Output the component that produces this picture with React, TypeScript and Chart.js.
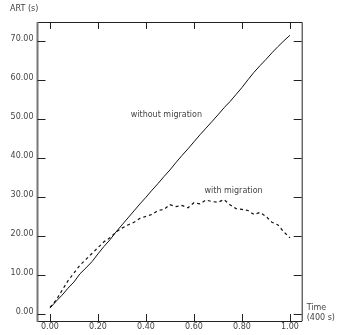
import React, { useEffect, useRef } from "react";
import { Chart, registerables } from "chart.js";

Chart.register(...registerables);

const timeValues = [
  0, 0.025, 0.05, 0.075, 0.1, 0.125, 0.15, 0.175, 0.2, 0.225, 0.25, 0.275, 0.3, 0.325, 0.35, 0.375, 0.4,
  0.425, 0.45, 0.475, 0.5, 0.525, 0.55, 0.575, 0.6, 0.625, 0.65, 0.675, 0.7, 0.725, 0.75, 0.775, 0.8,
  0.825, 0.85, 0.875, 0.9, 0.925, 0.95, 0.975, 1.0,
];
const artWithoutMigration = [
  1.5, 3.2, 4.8, 6.6, 8.2, 10.3, 11.8, 13.4, 15.4, 17.3, 19.0, 21.0, 22.8, 24.6, 26.4, 28.2, 29.9,
  31.7, 33.4, 35.2, 36.9, 38.8, 40.6, 42.3, 44.1, 45.9, 47.6, 49.3, 51.0, 52.8, 54.4, 56.2, 58.0,
  60.0, 61.9, 63.6, 65.2, 66.9, 68.5, 70.0, 71.4,
];
const artWithMigration = [
  1.7, 3.5, 6.0, 8.5, 10.5, 12.5, 14.0, 15.5, 17.0, 18.5, 19.5, 21.0, 22.0, 22.8, 23.5, 24.5, 25.0,
  25.5, 26.5, 26.8, 28.0, 27.5, 27.8, 27.2, 28.5, 28.2, 29.2, 28.8, 28.6, 29.3, 28.0, 27.0, 26.8,
  26.5, 25.5, 26.0, 25.0, 23.5, 22.8, 21.0, 19.5,
];
const xTickValues = [0, 0.2, 0.4, 0.6, 0.8, 1.0];
const yTickValues = [0, 10, 20, 30, 40, 50, 60, 70];

const FONT = "DejaVu Sans";
const TEXT_COLOR = "#444";

const framePlugin = {
  id: "frame",
  afterDraw(chart: any) {
    const { ctx, chartArea } = chart;
    const xs = chart.scales.x;
    const ys = chart.scales.y;
    const { left, right, top, bottom } = chartArea;
    ctx.save();
    ctx.strokeStyle = "#222";
    ctx.lineWidth = 1;
    ctx.beginPath();
    ctx.moveTo(left, top + 0.5);
    ctx.lineTo(right + 0.5, top + 0.5);
    ctx.lineTo(right + 0.5, bottom);
    ctx.stroke();
    ctx.beginPath();
    ctx.moveTo(left, bottom + 0.5);
    ctx.lineTo(right + 0.5, bottom + 0.5);
    ctx.stroke();
    ctx.strokeStyle = "#777";
    ctx.lineWidth = 2;
    ctx.beginPath();
    ctx.moveTo(left, top);
    ctx.lineTo(left, bottom + 1);
    ctx.stroke();
    ctx.strokeStyle = "#222";
    ctx.lineWidth = 1;
    ctx.beginPath();
    xTickValues.forEach((v) => {
      const px = Math.round(xs.getPixelForValue(v)) + 0.5;
      ctx.moveTo(px, bottom);
      ctx.lineTo(px, bottom - 7);
      ctx.moveTo(px, top);
      ctx.lineTo(px, top + 7);
    });
    yTickValues.forEach((v) => {
      const py = Math.round(ys.getPixelForValue(v)) + 0.5;
      ctx.moveTo(left, py);
      ctx.lineTo(left + 8, py);
      ctx.moveTo(right, py);
      ctx.lineTo(right - 8, py);
    });
    ctx.stroke();
    ctx.fillStyle = TEXT_COLOR;
    ctx.font = `8px "${FONT}"`;
    ctx.textBaseline = "middle";
    ctx.textAlign = "left";
    ctx.fillText("ART (s)", 10, 9);
    ctx.fillText("Time", right + 5, 308);
    ctx.fillText("(400 s)", right + 5, 318);
    ctx.textAlign = "center";
    ctx.fillText("without migration", xs.getPixelForValue(0.485), ys.getPixelForValue(50.9));
    ctx.fillText("with migration", xs.getPixelForValue(0.765), ys.getPixelForValue(31.6));
    ctx.restore();
  },
};

export default function App() {
  const canvasRef = useRef<HTMLCanvasElement | null>(null);

  useEffect(() => {
    if (!canvasRef.current) return;
    const chart = new Chart(canvasRef.current, {
      type: "line",
      data: {
        datasets: [
          {
            label: "without migration",
            data: timeValues.map((t, i) => ({ x: t, y: artWithoutMigration[i] })),
            borderColor: "#111",
            borderWidth: 1,
            pointRadius: 0,
            tension: 0,
            fill: false,
          },
          {
            label: "with migration",
            data: timeValues.map((t, i) => ({ x: t, y: artWithMigration[i] })),
            borderColor: "#111",
            borderWidth: 1.2,
            borderDash: [3, 3],
            pointRadius: 0,
            tension: 0,
            fill: false,
          },
        ],
      },
      options: {
        animation: false,
        responsive: false,
        maintainAspectRatio: false,
        layout: { padding: { left: 0, top: 22, right: 35.3, bottom: 0 } },
        plugins: {
          legend: { display: false },
          tooltip: { enabled: false },
        },
        scales: {
          x: {
            type: "linear",
            min: -0.052,
            max: 1.049,
            grid: { display: false, drawTicks: false },
            border: { display: false },
            afterBuildTicks: (scale: any) => {
              scale.ticks = xTickValues.map((v) => ({ value: v }));
            },
            afterFit: (scale: any) => {
              scale.height = 14;
            },
            ticks: {
              maxRotation: 0,
              autoSkip: false,
              padding: 1,
              color: TEXT_COLOR,
              font: { family: FONT, size: 8 },
              callback: (v: any) => Number(v).toFixed(2),
            },
          },
          y: {
            type: "linear",
            min: -1.8,
            max: 74.8,
            grid: { display: false, drawTicks: false },
            border: { display: false },
            afterBuildTicks: (scale: any) => {
              scale.ticks = yTickValues.map((v) => ({ value: v }));
            },
            afterFit: (scale: any) => {
              scale.width = 37.5;
            },
            ticks: {
              autoSkip: false,
              padding: 4,
              labelOffset: -2,
              color: TEXT_COLOR,
              font: { family: FONT, size: 8 },
              callback: (v: any) => Number(v).toFixed(2),
            },
          },
        },
      },
      plugins: [framePlugin],
    });
    return () => chart.destroy();
  }, []);

  return (
    <div style={{ position: "absolute", left: 0, top: 0, width: 337, height: 335 }}>
      <canvas ref={canvasRef} width={337} height={335} style={{ width: 337, height: 335 }} />
    </div>
  );
}
